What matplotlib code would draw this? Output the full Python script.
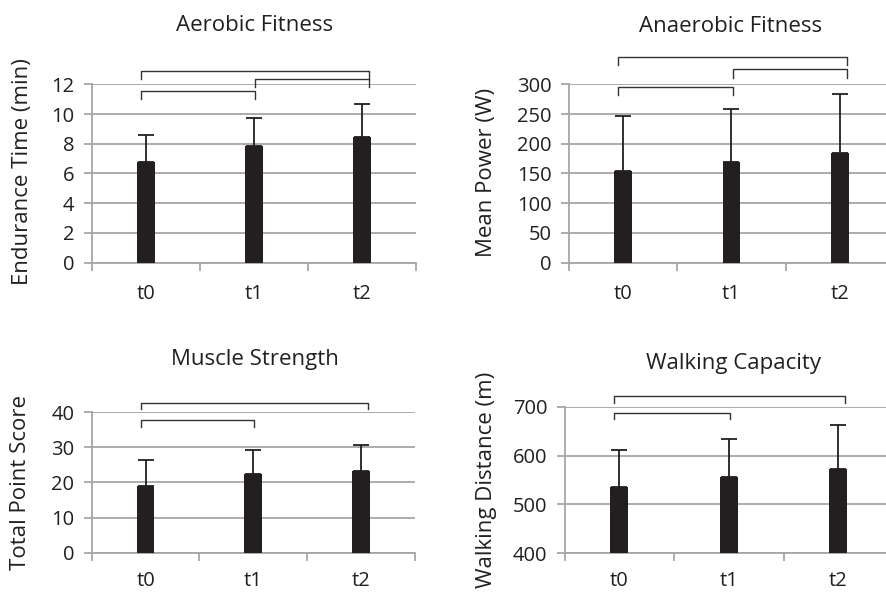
import numpy as np
import matplotlib
matplotlib.use("Agg")
import matplotlib.pyplot as plt
from matplotlib.ticker import FixedLocator

plt.rcParams['font.family'] = ['Open Sans', 'DejaVu Sans']

# data
times = ["t0", "t1", "t2"]

aerobic_mean = [6.8, 7.85, 8.45]
aerobic_sd = [1.8, 1.9, 2.2]

anaerobic_mean = [154, 169, 184]
anaerobic_sd = [93, 89, 99]

strength_mean = [19.0, 22.4, 23.2]
strength_sd = [7.4, 6.9, 7.4]

walking_mean = [536, 556, 572]
walking_sd = [76, 78, 90]

# significant comparisons: (first, second, bracket level in axes fraction)
aerobic_sig = [(0, 1, 0.965), (1, 2, 1.032), (0, 2, 1.077)]
anaerobic_sig = [(0, 1, 0.983), (1, 2, 1.083), (0, 2, 1.152)]
strength_sig = [(0, 1, 0.94), (0, 2, 1.065)]
walking_sig = [(0, 1, 0.96), (0, 2, 1.07)]

BAR = "#231f20"
GRID = "#a6a6a6"
TXT = "#231f20"

W, H = 887.0, 592.0
fig = plt.figure(figsize=(8.87, 5.92), dpi=100)


def px_axes(left, top, right, bottom):
    return fig.add_axes([left / W, 1 - bottom / H, (right - left) / W, (bottom - top) / H])


def draw_panel(ax, means, sds, ylo, yhi, step, sig, xpad=15):
    x = np.arange(len(times))
    ax.bar(x, means, width=0.165, color=BAR, zorder=3)
    ax.errorbar(x, means, yerr=[np.zeros(len(sds)), sds], fmt="none",
                ecolor=BAR, elinewidth=1.3, capsize=6, capthick=1.3, zorder=4)
    ax.set_xlim(-0.5, 2.5)
    ax.set_ylim(ylo, yhi)
    ax.set_yticks(np.arange(ylo, yhi + step / 2, step))
    ax.yaxis.grid(True, color=GRID, linewidth=1.3, zorder=0)
    ax.set_axisbelow(True)
    for s in ["top", "right"]:
        ax.spines[s].set_visible(False)
    for s in ["left", "bottom"]:
        ax.spines[s].set_color(GRID)
        ax.spines[s].set_linewidth(1.3)
    ax.set_xticks(x)
    ax.set_xticklabels(times)
    ax.xaxis.set_minor_locator(FixedLocator([-0.5, 0.5, 1.5, 2.5]))
    ax.tick_params(axis="x", which="major", length=0, pad=xpad, labelsize=14.5, labelcolor=TXT)
    ax.tick_params(axis="x", which="minor", length=6, width=1.3, color=GRID)
    ax.tick_params(axis="y", length=6, width=1.3, color=GRID, pad=6.5,
                   labelsize=14.5, labelcolor=TXT)

    tr = ax.get_xaxis_transform()
    for i, j, lev in sig:
        xi = i + (i - 1) * 0.055 + 0.01
        xj = j + (j - 1) * 0.055 + 0.01
        tick = 0.045
        ax.plot([xi, xi, xj, xj], [lev - tick, lev, lev, lev - tick],
                color="#333333", linewidth=1.0, transform=tr, clip_on=False, zorder=5)


ax1 = px_axes(91.7, 84.3, 416, 262.7)
draw_panel(ax1, aerobic_mean, aerobic_sd, 0, 12, 2, aerobic_sig)
ax2 = px_axes(569, 84.3, 894, 262.7)
draw_panel(ax2, anaerobic_mean, anaerobic_sd, 0, 300, 50, anaerobic_sig)
ax3 = px_axes(91.7, 412, 415, 552.7)
draw_panel(ax3, strength_mean, strength_sd, 0, 40, 10, strength_sig, xpad=13)
ax4 = px_axes(564.7, 406.7, 893, 553.3)
draw_panel(ax4, walking_mean, walking_sd, 400, 700, 100, walking_sig, xpad=13)

titles = [("Aerobic Fitness", 255, 31), ("Anaerobic Fitness", 731, 31.5),
          ("Muscle Strength", 255, 365), ("Walking Capacity", 734, 369)]
for t, xp, yp in titles:
    fig.text(xp / W, 1 - yp / H, t, ha="center", va="baseline", fontsize=16, color=TXT)

ylabels = [("Endurance Time (min)", 23, 172), ("Mean Power (W)", 487, 172),
           ("Total Point Score", 21, 482), ("Walking Distance (m)", 487, 480)]
for t, xp, yp in ylabels:
    fig.text(xp / W, 1 - yp / H, t, ha="center", va="center", rotation=90,
             fontsize=16, color=TXT)

fig.savefig("out.png", dpi=100)
